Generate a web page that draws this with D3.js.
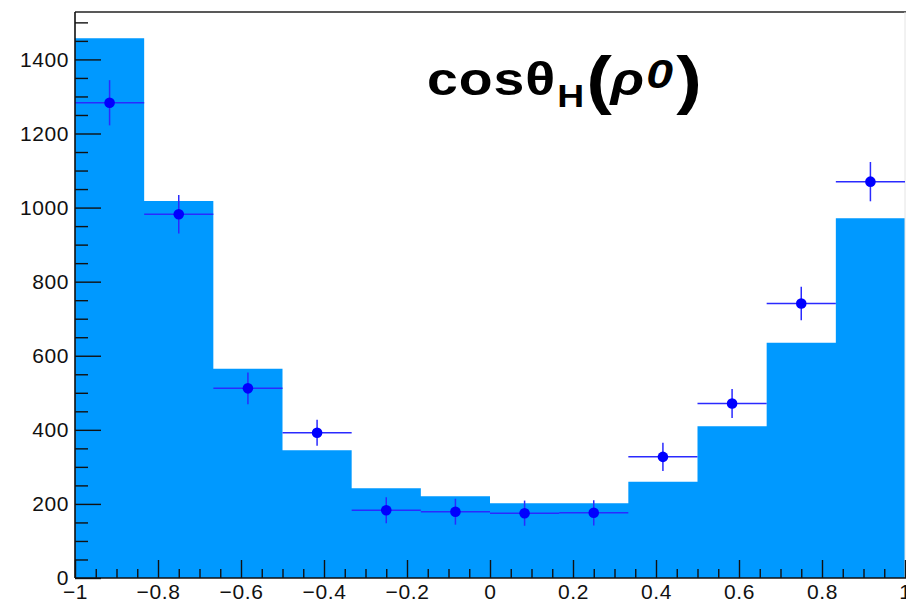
<!DOCTYPE html>
<html>
<head>
<meta charset="utf-8">
<script src="https://cdn.jsdelivr.net/npm/d3@7"></script>
<style>
html,body{margin:0;padding:0;background:#fff;}
svg{display:block;}
text{font-family:"Liberation Sans",Arial,Helvetica,sans-serif;}
</style>
</head>
<body>
<svg id="chart" width="906" height="603"></svg>
<script>
// ---- data ----
const xMin = -1, xMax = 1, nBins = 12;
const histValues = [1457, 1018, 565, 345, 242, 221, 202, 202, 260, 410, 635, 971];
const dataValues = [1283, 982, 512, 392, 183, 179, 175, 176, 327, 471, 741, 1070];
const dataErrors = [61, 52, 43, 35, 35, 35, 34, 34, 38, 39, 45, 53];
const xTickLabels = ["−1", "−0.8", "−0.6", "−0.4", "−0.2", "0", "0.2", "0.4", "0.6", "0.8", "1"];
const xTickValues = [-1, -0.8, -0.6, -0.4, -0.2, 0, 0.2, 0.4, 0.6, 0.8, 1];
const yTickValues = [0, 200, 400, 600, 800, 1000, 1200, 1400];
const yMax = 1528;

// ---- layout ----
const svg = d3.select("#chart");
const L = 75, R = 905, T = 12, B = 578;
const x = d3.scaleLinear().domain([xMin, xMax]).range([L, R]);
const y = d3.scaleLinear().domain([0, yMax]).range([B, T]);
const bw = (xMax - xMin) / nBins;
const bins = histValues.map((v, i) => ({lo: xMin + i * bw, hi: xMin + (i + 1) * bw, v}));
const pts = dataValues.map((v, i) => ({lo: xMin + i * bw, hi: xMin + (i + 1) * bw, c: xMin + (i + 0.5) * bw, v, e: dataErrors[i]}));

svg.append("rect").attr("width", 906).attr("height", 603).attr("fill", "#fff");

// histogram fill
const area = d3.area()
  .x(d => x(d.x)).y0(y(0)).y1(d => y(d.v))
  .curve(d3.curveStepAfter);
const stepPts = bins.map(b => ({x: b.lo, v: b.v})).concat([{x: xMax, v: bins[bins.length - 1].v}]);
svg.append("path").datum(stepPts).attr("d", area).attr("fill", "#0099ff");

// frame top & right
svg.append("line").attr("x1", L).attr("x2", 906).attr("y1", T).attr("y2", T)
  .attr("stroke", "#222").attr("stroke-width", 1.4);
svg.append("line").attr("x1", R).attr("x2", R).attr("y1", T).attr("y2", B)
  .attr("stroke", "#e4e4e4").attr("stroke-width", 1);

// data points
const pg = svg.append("g");
const ecol = "#2a2aff";
pg.selectAll(".h").data(pts).enter().append("line")
  .attr("x1", d => x(d.lo)).attr("x2", d => x(d.hi))
  .attr("y1", d => y(d.v)).attr("y2", d => y(d.v))
  .attr("stroke", ecol).attr("stroke-width", 1.5);
pg.selectAll(".v").data(pts).enter().append("line")
  .attr("x1", d => x(d.c)).attr("x2", d => x(d.c))
  .attr("y1", d => y(d.v - d.e)).attr("y2", d => y(d.v + d.e))
  .attr("stroke", ecol).attr("stroke-width", 1.5);
pg.selectAll("circle").data(pts).enter().append("circle")
  .attr("cx", d => x(d.c)).attr("cy", d => y(d.v)).attr("r", 5.3)
  .attr("fill", "#0000ff");

// minor ticks
const yMinor = d3.range(0, yMax, 50).filter(v => v % 200 !== 0);
const xMinor = d3.range(-20, 21).map(i => i * 0.05).filter(v => Math.abs(Math.round(v * 5) - v * 5) > 1e-6);

const yAx = svg.append("g").attr("transform", `translate(${L},0)`);
yAx.call(d3.axisLeft(y).tickValues(yTickValues).tickSize(-26).tickPadding(6).tickFormat(d3.format("d")));
const yAxMin = svg.append("g").attr("transform", `translate(${L},0)`);
yAxMin.call(d3.axisLeft(y).tickValues(yMinor).tickSize(-13).tickFormat(""));
yAxMin.select(".domain").remove();

const xAx = svg.append("g").attr("transform", `translate(0,${B})`);
xAx.call(d3.axisBottom(x).tickValues(xTickValues).tickSize(-18).tickPadding(6)
  .tickFormat((d, i) => xTickLabels[i]));
const xAxMin = svg.append("g").attr("transform", `translate(0,${B})`);
xAxMin.call(d3.axisBottom(x).tickValues(xMinor).tickSize(-9).tickFormat(""));
xAxMin.select(".domain").remove();

[yAx, yAxMin, xAx, xAxMin].forEach(g => {
  g.selectAll(".tick line").attr("stroke", "#111").attr("stroke-width", 1.4);
  g.selectAll(".domain").attr("stroke", "#111").attr("stroke-width", 1.6);
  g.selectAll("text").attr("font-size", 21).attr("letter-spacing", 0.6).attr("fill", "#111")
    .attr("font-family", "Liberation Sans, Arial, sans-serif");
});
yAx.select(".domain").attr("d", `M0,${B}V${T}`);
xAx.select(".domain").attr("d", `M${L},0H906`);

// title
const tg = svg.append("g");
const title = tg.append("text").attr("x", 427).attr("y", 95)
  .attr("font-weight", "bold").attr("font-size", 46).attr("fill", "#000")
  .attr("letter-spacing", 0.8);
title.append("tspan").attr("y", 95).text("cosθ");
title.append("tspan").attr("y", 107).attr("font-size", 31).attr("dx", 1).text("H");
title.append("tspan").attr("y", 102).attr("font-size", 64).attr("dx", 1).text("(");
title.append("tspan").attr("y", 95).attr("font-style", "italic").attr("dx", -2).text("ρ");
title.append("tspan").attr("y", 88).attr("font-size", 40).attr("font-style", "italic").attr("dx", 1).text("0");
title.append("tspan").attr("y", 102).attr("font-size", 64).attr("dx", 2).text(")");
const bb = title.node().getBBox();
const sx = 276 / bb.width;
tg.attr("transform", `translate(${427 - bb.x * sx},0) scale(${sx},1)`);
</script>
</body>
</html>
